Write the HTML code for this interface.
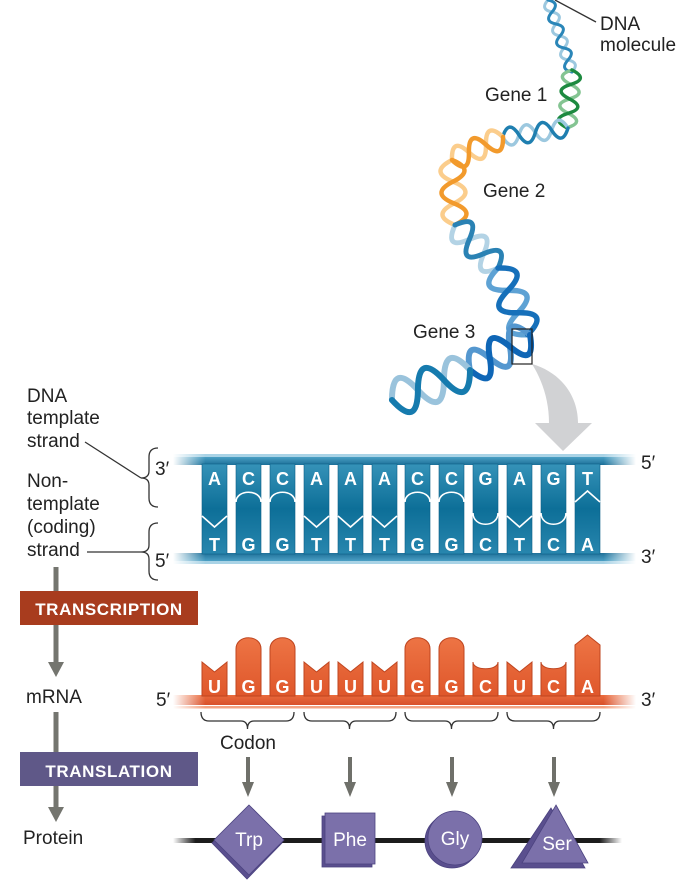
<!DOCTYPE html>
<html><head><meta charset="utf-8"><style>
html,body{margin:0;padding:0;background:#fff;}
svg{display:block;}
text{font-family:"Liberation Sans",sans-serif;}
</style></head><body>
<svg width="697" height="884" viewBox="0 0 697 884" xmlns="http://www.w3.org/2000/svg">
<defs>
  <linearGradient id="fadeGrad" gradientUnits="userSpaceOnUse" x1="173" y1="0" x2="636" y2="0">
    <stop offset="0" stop-color="#000"/><stop offset="0.07" stop-color="#fff"/>
    <stop offset="0.93" stop-color="#fff"/><stop offset="1" stop-color="#000"/>
  </linearGradient>
  <mask id="fade"><rect x="0" y="0" width="697" height="884" fill="url(#fadeGrad)"/></mask>
  <linearGradient id="protFade" gradientUnits="userSpaceOnUse" x1="173" y1="0" x2="622" y2="0">
    <stop offset="0" stop-color="#000"/><stop offset="0.05" stop-color="#fff"/>
    <stop offset="0.95" stop-color="#fff"/><stop offset="1" stop-color="#000"/>
  </linearGradient>
  <mask id="pfade"><rect x="0" y="0" width="697" height="884" fill="url(#protFade)"/></mask>
  <linearGradient id="barTop" x1="0" y1="0" x2="0" y2="1">
    <stop offset="0" stop-color="#4a9fc4"/><stop offset="1" stop-color="#1b6f98"/>
  </linearGradient>
  <linearGradient id="barBot" x1="0" y1="0" x2="0" y2="1">
    <stop offset="0" stop-color="#1f7099"/><stop offset="1" stop-color="#4a9fc4"/>
  </linearGradient>
  <linearGradient id="col" gradientUnits="userSpaceOnUse" x1="0" y1="464" x2="0" y2="554">
    <stop offset="0" stop-color="#3592b8"/><stop offset="0.5" stop-color="#0d6f98"/>
    <stop offset="1" stop-color="#2886ae"/>
  </linearGradient>
  <linearGradient id="rcol" gradientUnits="userSpaceOnUse" x1="0" y1="634" x2="0" y2="696">
    <stop offset="0" stop-color="#ee7646"/><stop offset="1" stop-color="#df572b"/>
  </linearGradient>
  <linearGradient id="rbar" x1="0" y1="0" x2="0" y2="1">
    <stop offset="0" stop-color="#ea6a3c"/><stop offset="1" stop-color="#d8502a"/>
  </linearGradient>
</defs>

<!-- ===== Top helix ===== -->
<g fill="none" stroke-linecap="round">
  <g transform="translate(548,0) rotate(71.6)">
    <path d="M0,0 Q6.3,11 12.65,0 T25.3,0 T37.95,0 T50.6,0 T63.25,0 T75.9,0" stroke="#9cc8df" stroke-width="3"/>
    <path d="M0,0 Q6.3,-11 12.65,0 T25.3,0 T37.95,0 T50.6,0 T63.25,0 T75.9,0" stroke="#2a86b8" stroke-width="3"/>
  </g>
  <g transform="translate(572,70) rotate(95)">
    <path d="M0,0 Q7.25,18 14.5,0 T29,0 T43.5,0 T58,0" stroke="#84c492" stroke-width="3.5"/>
    <path d="M0,0 Q7.25,-18 14.5,0 T29,0 T43.5,0 T58,0" stroke="#1d8a40" stroke-width="3.5"/>
  </g>
  <g transform="translate(568,128) rotate(172)">
    <path d="M0,0 Q8.25,18 16.5,0 T33,0 T49.5,0 T66,0" stroke="#9cc8df" stroke-width="3.5"/>
    <path d="M0,0 Q8.25,-18 16.5,0 T33,0 T49.5,0 T66,0" stroke="#1f7fb0" stroke-width="3.5"/>
  </g>
  <g transform="translate(503,137) rotate(155.7)">
    <path d="M0,0 Q9.35,22 18.7,0 T37.4,0 T56,0" stroke="#fbcd8c" stroke-width="4.5"/>
    <path d="M0,0 Q9.35,-22 18.7,0 T37.4,0 T56,0" stroke="#f29a2c" stroke-width="4.5"/>
  </g>
  <g transform="translate(452,160) rotate(87.4)">
    <path d="M0,0 Q10.85,24 21.7,0 T43.4,0 T65,0" stroke="#fbcd8c" stroke-width="4.5"/>
    <path d="M0,0 Q10.85,-24 21.7,0 T43.4,0 T65,0" stroke="#f29a2c" stroke-width="4.5"/>
  </g>
  <g transform="translate(455,225) rotate(45)">
    <path d="M0,0 Q10.15,26 20.3,0 T40.6,0 T61,0" stroke="#b3d3e5" stroke-width="5"/>
    <path d="M0,0 Q10.15,-26 20.3,0 T40.6,0 T61,0" stroke="#2a82b4" stroke-width="5"/>
  </g>
  <g transform="translate(498,268) rotate(66)">
    <path d="M0,0 Q12.25,30 24.5,0 T49,0 T73,0" stroke="#5ea2d4" stroke-width="5.5"/>
    <path d="M0,0 Q12.25,-30 24.5,0 T49,0 T73,0" stroke="#1670ba" stroke-width="5.5"/>
  </g>
  <g transform="translate(530,335) rotate(150)">
    <path d="M0,0 Q11.6,32 23.2,0 T46.4,0 T69.5,0" stroke="#5497cf" stroke-width="6"/>
    <path d="M0,0 Q11.6,-32 23.2,0 T46.4,0 T69.5,0" stroke="#0f66b6" stroke-width="6"/>
  </g>
  <g transform="translate(470,370) rotate(159)">
    <path d="M0,0 Q13.95,36 27.9,0 T55.8,0 T83.6,0" stroke="#9ac3dc" stroke-width="6"/>
    <path d="M0,0 Q13.95,-36 27.9,0 T55.8,0 T83.6,0" stroke="#167bae" stroke-width="6"/>
  </g>
</g>
<!-- zoom box & gray arrow -->
<path d="M532,364 C560,372 578,395 578,423 L592,423 L563,451 L535,423 L549,423 C549,400 542,380 532,364 Z" fill="#d1d2d4"/>
<rect x="512" y="329" width="20" height="35" fill="none" stroke="#222" stroke-width="1.2"/>
<!-- DNA molecule label -->
<line x1="555" y1="0" x2="596" y2="22" stroke="#333" stroke-width="1.3"/>
<text x="600" y="30" font-size="19" fill="#222">DNA</text>
<text x="600" y="51" font-size="19" fill="#222">molecule</text>
<text x="485" y="101" font-size="19" fill="#222">Gene 1</text>
<text x="483" y="197" font-size="19" fill="#222">Gene 2</text>
<text x="413" y="338" font-size="19" fill="#222">Gene 3</text>

<!-- ===== DNA double strand ===== -->
<g mask="url(#fade)">
  <rect x="173" y="454" width="463" height="3" fill="#a9d3e6"/>
  <rect x="173" y="457" width="463" height="8" fill="url(#barTop)"/>
  <rect x="173" y="553" width="463" height="8" fill="url(#barBot)"/>
  <rect x="173" y="561" width="463" height="3" fill="#a9d3e6"/>
</g>
<g fill="url(#col)" stroke="#0c5f87" stroke-width="0.6">
  <rect x="202" y="464" width="25" height="90"/>
  <rect x="236" y="464" width="25" height="90"/>
  <rect x="270" y="464" width="25" height="90"/>
  <rect x="304" y="464" width="25" height="90"/>
  <rect x="338" y="464" width="25" height="90"/>
  <rect x="372" y="464" width="25" height="90"/>
  <rect x="405" y="464" width="25" height="90"/>
  <rect x="439" y="464" width="25" height="90"/>
  <rect x="473" y="464" width="25" height="90"/>
  <rect x="507" y="464" width="25" height="90"/>
  <rect x="541" y="464" width="25" height="90"/>
  <rect x="575" y="464" width="25" height="90"/>
</g>
<g fill="none" stroke="#fff" stroke-width="1.6">
  <path d="M202,516 L214.5,527 L227,516"/>
  <path d="M236,502 C236,489 261,489 261,502"/>
  <path d="M270,502 C270,489 295,489 295,502"/>
  <path d="M304,516 L316.5,527 L329,516"/>
  <path d="M338,516 L350.5,527 L363,516"/>
  <path d="M372,516 L384.5,527 L397,516"/>
  <path d="M405,502 C405,489 430,489 430,502"/>
  <path d="M439,502 C439,489 464,489 464,502"/>
  <path d="M473,513 C473,528 498,528 498,513"/>
  <path d="M507,516 L519.5,527 L532,516"/>
  <path d="M541,513 C541,528 566,528 566,513"/>
  <path d="M575,502 L587.5,491 L600,502"/>
</g>
<g font-size="18" font-weight="bold" fill="#fff" text-anchor="middle">
  <text x="214.5" y="485">A</text><text x="248.5" y="485">C</text><text x="282.5" y="485">C</text>
  <text x="316.5" y="485">A</text><text x="350.5" y="485">A</text><text x="384.5" y="485">A</text>
  <text x="417.5" y="485">C</text><text x="451.5" y="485">C</text><text x="485.5" y="485">G</text>
  <text x="519.5" y="485">A</text><text x="553.5" y="485">G</text><text x="587.5" y="485">T</text>
  <text x="214.5" y="551">T</text><text x="248.5" y="551">G</text><text x="282.5" y="551">G</text>
  <text x="316.5" y="551">T</text><text x="350.5" y="551">T</text><text x="384.5" y="551">T</text>
  <text x="417.5" y="551">G</text><text x="451.5" y="551">G</text><text x="485.5" y="551">C</text>
  <text x="519.5" y="551">T</text><text x="553.5" y="551">C</text><text x="587.5" y="551">A</text>
</g>
<g font-size="19" fill="#222">
  <text x="155" y="475">3′</text>
  <text x="155" y="567">5′</text>
  <text x="641" y="469">5′</text>
  <text x="641" y="563">3′</text>
  <text x="156" y="706">5′</text>
  <text x="641" y="706">3′</text>
</g>

<!-- Left braces & labels -->
<g fill="none" stroke="#333" stroke-width="1.3">
  <path d="M158,448 Q149,448 149,457 L149,471 Q149,478 141,478 Q149,478 149,485 L149,498 Q149,507 158,507"/>
  <path d="M158,523 Q149,523 149,532 L149,545 Q149,552 141,552 Q149,552 149,559 L149,571 Q149,580 158,580"/>
  <line x1="85" y1="442" x2="141" y2="478"/>
  <line x1="87" y1="552" x2="141" y2="552"/>
</g>
<g font-size="19" fill="#222">
  <text x="27" y="402">DNA</text>
  <text x="27" y="424">template</text>
  <text x="27" y="447">strand</text>
  <text x="27" y="487">Non-</text>
  <text x="27" y="510">template</text>
  <text x="27" y="533">(coding)</text>
  <text x="27" y="556">strand</text>
  <text x="26" y="703">mRNA</text>
  <text x="23" y="844">Protein</text>
</g>

<!-- Left flow -->
<g fill="#74756f">
  <rect x="53.5" y="567" width="5" height="24"/>
  <rect x="53.5" y="625" width="5" height="39"/>
  <polygon points="48,662 64,662 56,677"/>
  <rect x="53.5" y="712" width="5" height="40"/>
  <rect x="53.5" y="786" width="5" height="23"/>
  <polygon points="48,807 64,807 56,822"/>
</g>
<rect x="20" y="591" width="178" height="34" fill="#a83c1e"/>
<text x="109" y="615" font-size="17" font-weight="bold" fill="#fff" text-anchor="middle" letter-spacing="0.6">TRANSCRIPTION</text>
<rect x="20" y="752" width="178" height="34" fill="#5f5888"/>
<text x="109" y="777" font-size="17" font-weight="bold" fill="#fff" text-anchor="middle" letter-spacing="0.6">TRANSLATION</text>

<!-- ===== mRNA ===== -->
<g mask="url(#fade)">
  <rect x="173" y="695" width="463" height="10" fill="url(#rbar)"/>
  <rect x="173" y="706" width="463" height="2.5" fill="#f3a382"/>
</g>
<g fill="url(#rcol)" stroke="#bf451f" stroke-width="1">
  <path d="M202,696 L202,662 L214.5,672 L227,662 L227,696 Z"/>
  <path d="M236,696 L236,649 C236,634 261,634 261,649 L261,696 Z"/>
  <path d="M270,696 L270,649 C270,634 295,634 295,649 L295,696 Z"/>
  <path d="M304,696 L304,662 L316.5,672 L329,662 L329,696 Z"/>
  <path d="M338,696 L338,662 L350.5,672 L363,662 L363,696 Z"/>
  <path d="M372,696 L372,662 L384.5,672 L397,662 L397,696 Z"/>
  <path d="M405,696 L405,649 C405,634 430,634 430,649 L430,696 Z"/>
  <path d="M439,696 L439,649 C439,634 464,634 464,649 L464,696 Z"/>
  <path d="M473,696 L473,662 C473,671 498,671 498,662 L498,696 Z"/>
  <path d="M507,696 L507,662 L519.5,672 L532,662 L532,696 Z"/>
  <path d="M541,696 L541,662 C541,671 566,671 566,662 L566,696 Z"/>
  <path d="M575,696 L575,645 L587.5,635 L600,645 L600,696 Z"/>
</g>
<g font-size="18" font-weight="bold" fill="#fff" text-anchor="middle">
  <text x="214.5" y="693">U</text><text x="248.5" y="693">G</text><text x="282.5" y="693">G</text>
  <text x="316.5" y="693">U</text><text x="350.5" y="693">U</text><text x="384.5" y="693">U</text>
  <text x="417.5" y="693">G</text><text x="451.5" y="693">G</text><text x="485.5" y="693">C</text>
  <text x="519.5" y="693">U</text><text x="553.5" y="693">C</text><text x="587.5" y="693">A</text>
</g>
<!-- codon braces -->
<g fill="none" stroke="#333" stroke-width="1.3">
  <path d="M201,712 Q201,721 209,721 L241,721 Q247.5,721 247.5,729 Q247.5,721 254,721 L286,721 Q294,721 294,712"/>
  <path d="M304,712 Q304,721 312,721 L343,721 Q349.5,721 349.5,729 Q349.5,721 356,721 L388,721 Q396,721 396,712"/>
  <path d="M405,712 Q405,721 413,721 L445,721 Q451.5,721 451.5,729 Q451.5,721 458,721 L490,721 Q498,721 498,712"/>
  <path d="M507,712 Q507,721 515,721 L547,721 Q553.5,721 553.5,729 Q553.5,721 560,721 L592,721 Q600,721 600,712"/>
</g>
<text x="248" y="749" font-size="19" fill="#222" text-anchor="middle">Codon</text>

<!-- amino acid arrows -->
<g fill="#6f706a">
  <rect x="246" y="757" width="4" height="27"/><polygon points="242,782 254,782 248,797"/>
  <rect x="348" y="757" width="4" height="27"/><polygon points="344,782 356,782 350,797"/>
  <rect x="450" y="757" width="4" height="27"/><polygon points="446,782 458,782 452,797"/>
  <rect x="552" y="757" width="4" height="27"/><polygon points="548,782 560,782 554,797"/>
</g>

<!-- protein -->
<rect x="173" y="838" width="449" height="5" fill="#1c1c1c" mask="url(#pfade)"/>
<g stroke="#4c4380" stroke-width="0.8">
  <polygon points="247,808 282,843 247,879 212,843" fill="#5a4f8e"/>
  <polygon points="249,805 284,840 249,875 214,840" fill="#7b70aa"/>
  <rect x="322" y="816" width="50" height="51" fill="#5a4f8e"/>
  <rect x="325" y="813" width="50" height="51" fill="#7b70aa"/>
  <circle cx="452" cy="841" r="27" fill="#5a4f8e"/>
  <circle cx="455" cy="838" r="27" fill="#7b70aa"/>
  <polygon points="551,808 511,868 585,868" fill="#5a4f8e"/>
  <polygon points="556,805 588,863 522,863" fill="#7b70aa"/>
</g>
<g font-size="19" fill="#fff" text-anchor="middle">
  <text x="249" y="846">Trp</text>
  <text x="350" y="846">Phe</text>
  <text x="455" y="845">Gly</text>
  <text x="557" y="850">Ser</text>
</g>
</svg>
</body></html>
